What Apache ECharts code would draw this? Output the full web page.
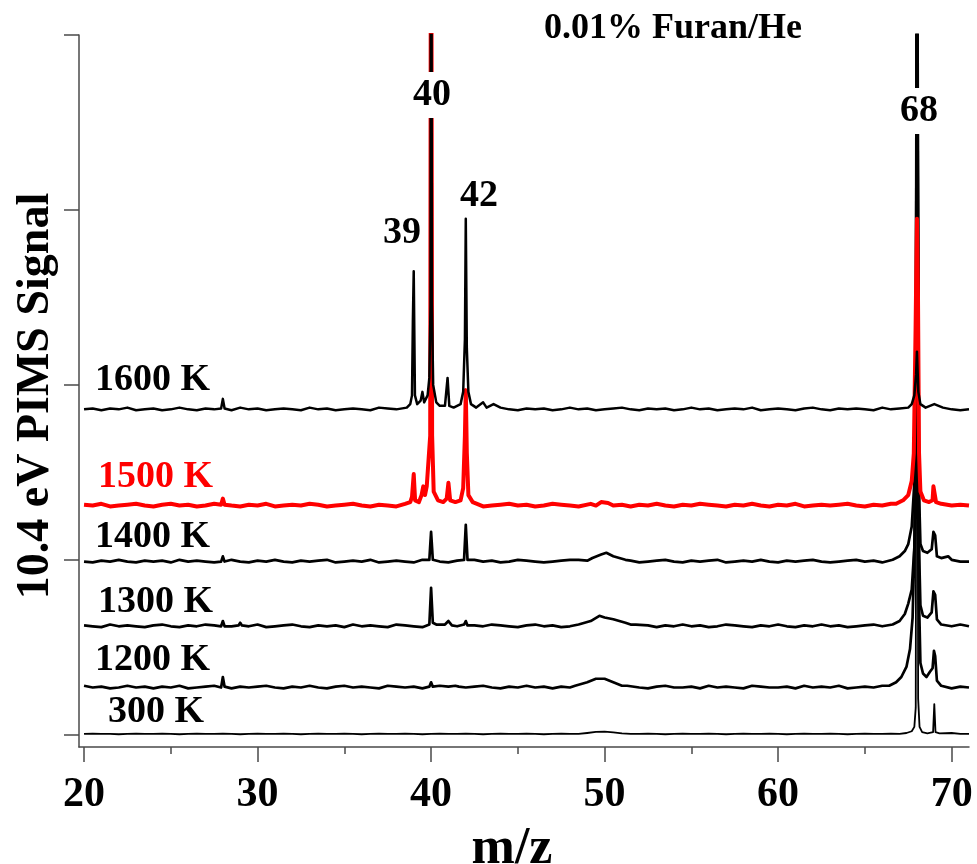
<!DOCTYPE html>
<html>
<head>
<meta charset="utf-8">
<script src="https://cdn.jsdelivr.net/npm/echarts@6/dist/echarts.min.js"></script>
<style>html,body{margin:0;padding:0;background:#fff}#main{width:977px;height:864px}</style>
</head>
<body>
<div id="main"></div>
<script>
// ---- data ----
const xMajorTicks = [20, 30, 40, 50, 60, 70];
const xMinorTicks = [25, 35, 45, 55, 65];
const yTicks = [0, 100, 200, 300, 400];
const temperatures = ['300 K', '1200 K', '1300 K', '1400 K', '1500 K', '1600 K'];
const offsets = [0.5, 27, 62, 99, 131, 186];
const noiseStart = 20, noiseStep = 0.5;

const noise300 = [0,0.2,0,0,-0.2,0,0.2,0,0,0.2, 0,-0.2,0,0.2,0,0,0.2,0,-0.2,0, 0.2,0,0,0.2,0,-0.2,0,0.2,0,0, 0.2,0,-0.2,0,0.2,0,0,0.2,0,-0.2, 0,0.2,0,0,0.2,0,-0.2,0,0.2,0, 0,0.2,0,-0.2,0,0.2,0,0,0.2,0, -0.2,0,0.2,0,0,0.2,0,-0.2,0,0.2, 0,0,0.2,0,-0.2,0,0.2,0,0,0.2, 0,-0.2,0,0.2,0,0,0.2,0,-0.2,0, 0.2,0,0,0.2,0,-0.2,0,0.2,0,0, 0.2,0,0];
const noise1200 = [1,0,0.5,-0.5,0,1,0,0.5,-0.5,0.5, 0,1,-0.5,0,0.5,1,0,-0.5,0.5,0, 0.5,1,0,-0.5,0.5,0,1,0,-0.5,0.5, 1,0,0.5,0,-0.5,1,0.5,0,0.5,-0.5, 0,1,0.5,-0.5,0,0.5,1,0,-0.5,0.5, 0,1,0,0.5,-0.5,0.5,0,1,0,0.5, -0.5,0,1,0.5,0,-0.5,0.5,1,0,0, 0.5,-0.5,1,0,0.5,0,-0.5,1,0.5,0, 0,0.5,-0.5,1,0,0.5,0,1,-0.5,0, 0.5,0,1,0,-0.5,0.5,1,0,0.5,0, -0.5,0.5,0];
const noise1300 = [0.5,0,-0.5,1,0,0.5,0,-0.5,0.5,1, 0,-0.5,0.5,0,1,0.5,-0.5,0,0.5,0, 1,-0.5,0,0.5,1,0,-0.5,0.5,0,0.5, -0.5,1,0,0.5,0,-0.5,1,0.5,0,-0.5, 0.5,0,1,0,-0.5,0.5,0,1,0.5,0, -0.5,0.5,1,0,0.5,-0.5,0,0.5,1,0, 0.5,-0.5,0,1,0,0.5,-0.5,0.5,0,1, 0,0.5,-0.5,0,1,0.5,0,-0.5,0.5,0, 1,0,-0.5,0.5,0,1,0,0.5,-0.5,0, 0.5,1,0,-0.5,0.5,0,1,0,0.5,-0.5, 0,1,0];
const noise1400 = [0,-0.5,0.5,0,1,0,-0.5,0.5,0,0.5, -0.5,1,0,0.5,0,-0.5,0.5,1,0,-0.5, 0.5,0,1,0,-0.5,0.5,0,0.5,1,-0.5, 0,0.5,0,1,-0.5,0,0.5,0,-0.5,1, 0.5,0,-0.5,0.5,0,1,0,0.5,-0.5,0, 1,0.5,0,-0.5,0,0.5,1,0,0.5,-0.5, 0,1,0,0.5,-0.5,0,0.5,1,0,-0.5, 0.5,0,0.5,1,-0.5,0,0.5,0,1,0, -0.5,0.5,0,0.5,1,0,-0.5,0,0.5,1, 0,0.5,-0.5,0,1,0,0.5,-0.5,0,0.5, 1,0,0];
const noise1500 = [0.5,0,1,-0.5,0,0.5,1,0,-0.5,0.5, 1,0,0.5,-0.5,0,1,0.5,0,-0.5,0.5, 0,1,-0.5,0,0.5,0,1,0.5,-0.5,0, 0.5,1,0,-0.5,0.5,0,-0.5,1,0,0.5, 0,-0.5,0.5,1,0,0.5,-0.5,0,0.5,1, 0,0.5,-0.5,0,1,0.5,0,-0.5,0.5,0, 1,0,0.5,-0.5,0.5,0,1,0,-0.5,0.5, 0,1,0.5,0,-0.5,0.5,0,1,0,-0.5, 0.5,0,1,-0.5,0,0.5,0,0.5,1,0, -0.5,0.5,0,1,0,-0.5,0.5,0,1,0.5, 0,0.5,0];
const noise1600 = [0,0.5,-0.5,0.5,0,1,-0.5,0,0.5,-0.5, 0,1,0,-0.5,0.5,0,0.5,-0.5,1,0, 0.5,-0.5,0,0.5,0,-0.5,1,0,0.5,-0.5, 0,0.5,0,-0.5,1,0.5,0,-0.5,0.5,0, 1,0,-0.5,0.5,0,0.5,-0.5,0,1,0, -0.5,0.5,0,0.5,-0.5,0,1,0,0.5,-0.5, 0,0.5,1,0,-0.5,0.5,0,0.5,-0.5,0, 1,0,0.5,-0.5,0,0.5,0,1,-0.5,0, 0.5,0,-0.5,0.5,1,0,-0.5,0.5,0,0.5, 0,-0.5,1,0,0.5,0,-0.5,0.5,0,1, 0,-0.5,0];

const peaks300 = [[49.0,0.5],[49.5,1.1],[50.0,1.3],[50.5,0.9],[51.0,0.3],[67.4,0.5],[67.7,1.5],[67.85,4],[67.93,15],[68.0,450],[68.07,20],[68.15,4],[68.3,1],[68.6,0.3],[68.93,1],[69.0,17],[69.07,1],[69.3,0.3],[70.0,0.5]];
const peaks1200 = [[27.9,0],[28.0,6],[28.1,0.5],[39.9,0.5],[40.0,3],[40.1,0.5],[41.4,1],[41.5,2],[41.6,0.5],[48.3,1],[49.0,3],[49.5,5],[50.0,5],[50.5,3],[51.3,1],[66.4,1],[66.8,3],[67.1,6],[67.4,12],[67.6,22],[67.75,40],[67.88,90],[67.95,220],[68.0,450],[68.06,250],[68.12,50],[68.2,14],[68.35,8],[68.55,6],[68.75,9],[68.9,11],[68.98,21],[69.05,18],[69.15,4],[69.4,1]];
const peaks1300 = [[27.9,0],[28.0,3],[28.1,0],[28.9,0.5],[29.0,2],[29.1,0.5],[39.9,1],[40.0,22],[40.1,2],[40.3,1],[40.8,1],[41.0,3],[41.2,0.5],[41.9,1],[42.0,3],[42.1,0.5],[48.5,1],[49.2,3],[49.7,6],[50.0,5],[50.5,4],[51.2,2],[51.8,1],[66.6,1],[67.0,3],[67.3,7],[67.5,13],[67.7,21],[67.85,45],[67.95,160],[68.0,450],[68.06,220],[68.12,45],[68.2,12],[68.35,6],[68.6,5],[68.85,8],[68.95,20],[69.05,18],[69.15,4],[69.4,1]];
const peaks1400 = [[27.9,0],[28.0,3],[28.1,0],[39.9,1],[40.0,17],[40.1,1],[41.9,1],[42.0,21],[42.1,1],[42.5,1],[48.5,1],[49.3,2],[49.8,4],[50.1,5],[50.5,3],[51.2,1],[66.6,1],[67.0,3],[67.3,6],[67.5,10],[67.7,20],[67.85,45],[67.95,160],[68.0,450],[68.06,220],[68.12,40],[68.2,10],[68.35,6],[68.6,5],[68.85,7],[68.95,17],[69.05,15],[69.15,3],[69.4,2],[69.8,3],[70.0,1]];
const peaks1500 = [[27.9,0.5],[28.0,4],[28.1,0.5],[38.8,2],[38.9,5],[39.0,18],[39.08,3],[39.3,2],[39.45,6],[39.55,11],[39.65,6],[39.75,11],[39.85,12],[39.95,40],[40.0,450],[40.06,40],[40.15,8],[40.4,3],[40.7,2],[40.9,4],[41.0,13],[41.1,3],[41.4,2],[41.7,3],[41.85,10],[41.95,40],[42.0,66],[42.06,30],[42.15,6],[42.4,2],[49.2,1],[49.8,2],[50.2,1.5],[66.8,1],[67.2,3],[67.5,6],[67.7,14],[67.82,30],[67.92,100],[68.0,164],[68.06,120],[68.12,30],[68.2,8],[68.4,3],[68.7,2],[68.9,3],[68.95,11],[69.05,11],[69.1,2],[69.4,1]];
const peaks1600 = [[27.9,0.5],[28.0,6],[28.1,0.5],[38.6,1],[38.8,3],[38.9,8],[38.95,50],[39.0,79],[39.07,8],[39.2,3],[39.4,5],[39.5,10],[39.6,4],[39.8,8],[39.9,18],[39.97,60],[40.0,450],[40.05,60],[40.12,14],[40.3,4],[40.5,2],[40.8,2],[40.95,18],[41.05,2],[41.3,1],[41.7,3],[41.85,10],[41.95,40],[42.0,109],[42.06,35],[42.15,10],[42.3,3],[42.6,1],[43.0,4],[43.2,1],[43.6,3],[67.5,1],[67.7,3],[67.85,8],[67.95,20],[68.0,33],[68.08,10],[68.2,3],[68.5,1],[69.0,3]];

const noiseSets = [noise300, noise1200, noise1300, noise1400, noise1500, noise1600];
const peakSets = [peaks300, peaks1200, peaks1300, peaks1400, peaks1500, peaks1600];
const traceColors = ['#000000', '#000000', '#000000', '#000000', '#ff0000', '#000000'];
const traceWidths = [1.8, 2.7, 2.7, 2.7, 4.0, 2.5];

const peakLabels = ['39', '40', '42', '68'];

// ---- build ----
function buildTrace(noise, peaks, offset) {
  const pts = [];
  noise.forEach((v, i) => {
    const x = noiseStart + i * noiseStep;
    if (!peaks.some(p => Math.abs(p[0] - x) < 0.26)) pts.push([x, v]);
  });
  peaks.forEach(p => pts.push([p[0], p[1]]));
  pts.sort((a, b) => a[0] - b[0]);
  return pts.map(p => [p[0], p[1] + offset]);
}

const chart = echarts.init(document.getElementById('main'), null, {renderer: 'canvas'});
const axisColor = '#4a4a4a';
const FONT = '"Liberation Serif", "Times New Roman", serif';

const series = temperatures.map((t, i) => ({
  name: t,
  type: 'line',
  data: buildTrace(noiseSets[i], peakSets[i], offsets[i]),
  showSymbol: false,
  symbol: 'none',
  animation: false,
  z: 2 + i,
  lineStyle: {color: traceColors[i], width: traceWidths[i], join: 'round'}
}));

function txt(text, x, y, size, opts) {
  opts = opts || {};
  return {
    type: 'text', x: x, y: y, z: 100, rotation: opts.rotation || 0,
    style: {
      text: text,
      font: 'bold ' + size + 'px ' + FONT,
      fill: opts.color || '#000',
      align: opts.align || 'left',
      verticalAlign: 'middle',
      backgroundColor: opts.bg,
      padding: opts.padding
    }
  };
}

const tempLabelPos = [[108, 712], [95, 660], [98, 602], [95, 537], [98, 477], [95, 380]];
const graphics = temperatures.map((t, i) =>
  txt(t, tempLabelPos[i][0], tempLabelPos[i][1], 38, {color: traceColors[i]}));
const peakLabelPos = [[402, 233, false], [432, 95, true], [479, 196, false], [919, 111, true]];
peakLabels.forEach((p, i) => {
  const pos = peakLabelPos[i];
  graphics.push(txt(p, pos[0], pos[1], 38, {align: 'center', bg: pos[2] ? '#fff' : undefined, padding: pos[2] ? [4, 2, 4, 2] : undefined}));
});
graphics.push(txt('0.01% Furan/He', 673, 29, 36, {align: 'center'}));
graphics.push(txt('10.4 eV PIMS Signal', 36, 396, 46, {align: 'center', rotation: Math.PI / 2}));
graphics.push(txt('m/z', 512, 850, 52, {align: 'center'}));

const option = {
  backgroundColor: '#fff',
  animation: false,
  grid: {left: 79, right: 8, top: 35, bottom: 117, containLabel: false},
  xAxis: [{
    type: 'value', min: 19.71, max: 71, position: 'bottom',
    axisLine: {show: true, onZero: false, lineStyle: {color: axisColor, width: 1.5}},
    axisTick: {show: true, customValues: xMajorTicks, length: 15, lineStyle: {color: axisColor, width: 1.5}},
    axisLabel: {show: true, customValues: xMajorTicks, margin: 27, color: '#000', fontSize: 42, fontWeight: 'bold', fontFamily: FONT},
    splitLine: {show: false}
  }, {
    type: 'value', min: 19.71, max: 71, position: 'bottom',
    axisLine: {show: false, onZero: false},
    axisTick: {show: true, customValues: xMinorTicks, length: 7, lineStyle: {color: axisColor, width: 1.5}},
    axisLabel: {show: false},
    splitLine: {show: false}
  }],
  yAxis: {
    type: 'value', min: -7, max: 400,
    axisLine: {show: true, onZero: false, lineStyle: {color: axisColor, width: 1.5}},
    axisTick: {show: true, customValues: yTicks, length: 15, lineStyle: {color: axisColor, width: 1.5}},
    axisLabel: {show: false},
    splitLine: {show: false}
  },
  series: series,
  graphic: graphics
};
chart.setOption(option);
</script>
</body>
</html>
